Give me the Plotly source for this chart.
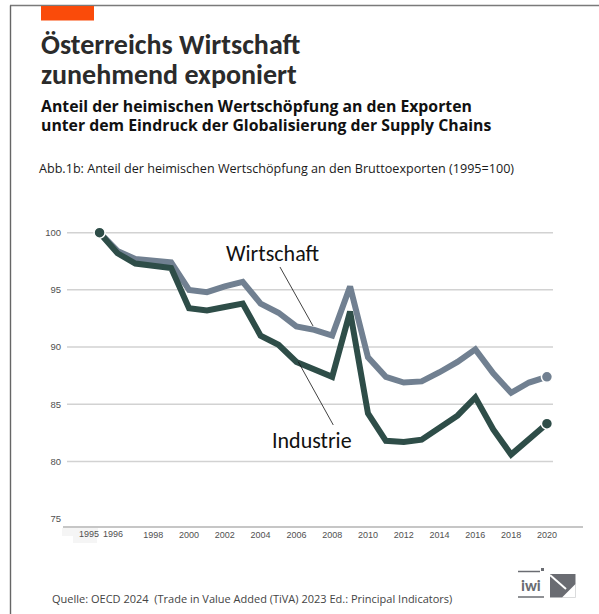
import plotly.graph_objects as go

# --- data: share of domestic value added in gross exports, index 1995=100 ---
years = list(range(1995, 2021))
wirtschaft = [100.0, 98.4, 97.7, 97.5, 97.4, 95.0, 94.8, 95.3, 95.7, 93.8, 93.0, 91.8, 91.5,
              91.0, 95.3, 89.1, 87.4, 86.9, 87.0, 87.8, 88.7, 89.8, 87.7, 86.0, 86.9, 87.4]
industrie = [100.0, 98.2, 97.3, 97.1, 96.9, 93.4, 93.2, 93.5, 93.8, 91.0, 90.2, 88.7, 88.0,
             87.4, 93.1, 84.2, 81.8, 81.7, 81.9, 83.0, 84.0, 85.6, 82.8, 80.6, 81.9, 83.3]
y_ticks = [75, 80, 85, 90, 95, 100]
x_ticks = list(range(1998, 2021, 2))
x_ticks_shifted = [(1995, -11), (1996, -4)]

series_names = ["Wirtschaft", "Industrie"]
title_lines = ["Österreichs Wirtschaft", "zunehmend exponiert"]
subtitle_lines = ["Anteil der heimischen Wertschöpfung an den Exporten",
                  "unter dem Eindruck der Globalisierung der Supply Chains"]
caption = "Abb.1b: Anteil der heimischen Wertschöpfung an den Bruttoexporten (1995=100)"
source = "Quelle: OECD 2024  (Trade in Value Added (TiVA) 2023 Ed.: Principal Indicators)"

GRAY = "#718091"
DARK = "#2E4D48"
ORANGE = "#FA4B0A"
TITLE_FONT = "Calibri, Carlito, Lato, sans-serif"
TEXT_FONT = "Open Sans, sans-serif"
AXIS_FONT = "Liberation Sans, Arial, sans-serif"

W, H = 599, 614
L, R, T, B = 67, 553, 221, 527   # plot area in pixels


def px(x):
    return (x - L) / (R - L)


def py(y):
    return (B - y) / (B - T)


fig = go.Figure()

fig.add_trace(go.Scatter(x=years, y=wirtschaft, mode="lines", name=series_names[0],
                         line=dict(color=GRAY, width=6), hoverinfo="skip"))
fig.add_trace(go.Scatter(x=years, y=industrie, mode="lines", name=series_names[1],
                         line=dict(color=DARK, width=6), hoverinfo="skip"))
fig.add_trace(go.Scatter(x=[years[-1]], y=[wirtschaft[-1]], mode="markers",
                         marker=dict(size=11, color=GRAY, line=dict(color="white", width=1.5)),
                         hoverinfo="skip"))
fig.add_trace(go.Scatter(x=[years[0], years[-1]], y=[industrie[0], industrie[-1]], mode="markers",
                         marker=dict(size=11, color=DARK, line=dict(color="white", width=1.5)),
                         hoverinfo="skip"))

shapes = []
# horizontal gridlines (none at the baseline)
for v in y_ticks[1:]:
    shapes.append(dict(type="line", xref="paper", yref="y", x0=0, x1=1, y0=v, y1=v,
                       line=dict(color="#d2d2d2", width=1.5), layer="below"))
# baseline extending past the plot area
shapes.append(dict(type="line", xref="paper", yref="paper", x0=px(63), x1=px(583), y0=0, y1=0,
                   line=dict(color="#8e8e8e", width=1.2)))
# faint patch behind first year label
shapes.append(dict(type="rect", xref="paper", yref="paper", x0=px(62), x1=px(98), y0=py(528), y1=py(536),
                   fillcolor="#f5f5f5", line=dict(width=0), layer="below"))
shapes.append(dict(type="rect", xref="paper", yref="paper", x0=px(73), x1=px(97), y0=py(536), y1=py(543),
                   fillcolor="#f5f5f5", line=dict(width=0), layer="below"))
# leader lines for the series labels
shapes.append(dict(type="line", xref="x", yref="y", x0=2005.08, y0=97.0, x1=2006.93, y1=91.84,
                   line=dict(color="#111111", width=0.8)))
shapes.append(dict(type="line", xref="x", yref="y", x0=2006.1, y0=88.72, x1=2008.06, y1=83.19,
                   line=dict(color="#111111", width=0.8)))
# frame lines
shapes.append(dict(type="line", xref="paper", yref="paper", x0=px(10), x1=px(599), y0=py(5.5), y1=py(5.5),
                   line=dict(color="#7a7a7a", width=1.6)))
shapes.append(dict(type="line", xref="paper", yref="paper", x0=px(10.5), x1=px(10.5), y0=py(5.5), y1=py(614),
                   line=dict(color="#666666", width=1.4)))
# orange accent bar
shapes.append(dict(type="rect", xref="paper", yref="paper", x0=px(41), x1=px(94), y0=py(20.5), y1=py(6),
                   fillcolor=ORANGE, line=dict(width=0)))
# logo marks
LOGO = "#6a6c72"
shapes.append(dict(type="line", xref="paper", yref="paper", x0=px(518), x1=px(540), y0=py(571.5), y1=py(571.5),
                   line=dict(color=LOGO, width=1.5)))
shapes.append(dict(type="line", xref="paper", yref="paper", x0=px(518), x1=px(544), y0=py(597), y1=py(597),
                   line=dict(color=LOGO, width=1.5)))
shapes.append(dict(type="rect", xref="paper", yref="paper", x0=px(541), x1=px(544), y0=py(571), y1=py(568),
                   fillcolor=LOGO, line=dict(width=0)))
shapes.append(dict(type="rect", xref="paper", yref="paper", x0=px(550), x1=px(575.5), y0=py(597.5), y1=py(574),
                   fillcolor=LOGO, line=dict(width=0)))
shapes.append(dict(type="path", xref="paper", yref="paper",
                   path=f"M {px(575.5)},{py(584)} L {px(575.5)},{py(597.5)} L {px(562)},{py(597.5)} Z",
                   fillcolor="white", line=dict(width=0)))
shapes.append(dict(type="line", xref="paper", yref="paper", x0=px(550), x1=px(566), y0=py(575), y1=py(589),
                   line=dict(color="white", width=2)))

annotations = []


def text_at(text, x, y, size, color, family=TEXT_FONT, xanchor="left", **kw):
    annotations.append(dict(text=text, xref="paper", yref="paper", x=px(x), y=py(y),
                            xanchor=xanchor, yanchor="middle", showarrow=False,
                            font=dict(family=family, size=size, color=color), **kw))


text_at(f"<b>{title_lines[0]}</b>", 39, 44, 28, "#2b2b2b", family=TITLE_FONT)
text_at(f"<b>{title_lines[1]}</b>", 39, 74.5, 28, "#2b2b2b", family=TITLE_FONT)
text_at(f"<b>{subtitle_lines[0]}</b>", 39, 106, 15.8, "#111111")
text_at(f"<b>{subtitle_lines[1]}</b>", 39, 124.5, 15.8, "#111111")
text_at(caption, 37, 168.5, 12.6, "#1a1a1a")
text_at(source, 50, 598, 11, "#444444")
text_at("<b>iwi</b>", 531, 585, 16, LOGO, family=TITLE_FONT, xanchor="center")

# series labels
annotations.append(dict(text=series_names[0], xref="x", yref="y", x=2004.69, y=98.2, showarrow=False,
                        font=dict(family=TITLE_FONT, size=22, color="#111111")))
annotations.append(dict(text=series_names[1], xref="x", yref="y", x=2006.87, y=81.8, showarrow=False,
                        font=dict(family=TITLE_FONT, size=22, color="#111111")))

# first two year labels sit slightly left of their points
for yr, shift in x_ticks_shifted:
    annotations.append(dict(text=str(yr), xref="x", yref="paper", x=yr, y=0, yanchor="top", yshift=0,
                            xshift=shift, showarrow=False,
                            font=dict(family=AXIS_FONT, size=9, color="#505050")))

fig.update_layout(
    width=W, height=H,
    margin=dict(l=L, r=W - R, t=T, b=H - B, pad=0),
    paper_bgcolor="white", plot_bgcolor="white",
    showlegend=False,
    shapes=shapes,
    annotations=annotations,
    xaxis=dict(range=[1993.18, 2020.34], tickvals=x_ticks, ticktext=[str(v) for v in x_ticks],
               showgrid=False, zeroline=False, showline=False, ticks="",
               tickfont=dict(family=AXIS_FONT, size=9, color="#505050"), ticklabelstandoff=1),
    yaxis=dict(range=[74.27, 101.02], tickvals=y_ticks, ticktext=[str(v) for v in y_ticks],
               showgrid=False, zeroline=False, showline=False, ticks="",
               tickfont=dict(family=AXIS_FONT, size=9.5, color="#505050"), ticklabelstandoff=5),
)

fig.write_html("out.html", config={"displayModeBar": False})
